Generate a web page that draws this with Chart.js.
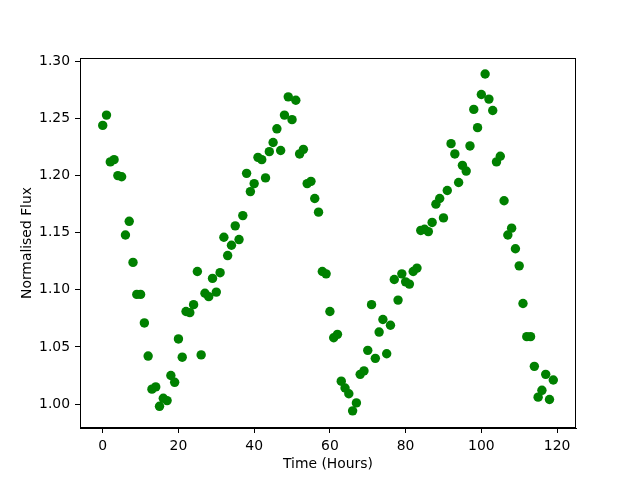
<!DOCTYPE html>
<html>
<head>
<meta charset="utf-8">
<script src="https://cdn.jsdelivr.net/npm/chart.js@4"></script>
<style>
html,body{margin:0;padding:0;background:#fff;}
#c{display:block;}
</style>
</head>
<body>
<canvas id="c" width="640" height="480"></canvas>
<script>
const timeHours = [0,1,2,3,4,5,6,7,8,9,10,11,12,13,14,15,16,17,18,19,20,21,22,23,24,25,26,27,28,29,30,31,32,33,34,35,36,37,38,39,40,41,42,43,44,45,46,47,48,49,50,51,52,53,54,55,56,57,58,59,60,61,62,63,64,65,66,67,68,69,70,71,72,73,74,75,76,77,78,79,80,81,82,83,84,85,86,87,88,89,90,91,92,93,94,95,96,97,98,99,100,101,102,103,104,105,106,107,108,109,110,111,112,113,114,115,116,117,118,119];
const normFlux = [1.244,1.253,1.212,1.214,1.200,1.199,1.148,1.160,1.124,1.096,
1.096,1.071,1.042,1.013,1.015,0.998,1.005,1.003,1.025,1.019,
1.057,1.041,1.081,1.080,1.087,1.116,1.043,1.097,1.094,1.110,
1.098,1.115,1.146,1.130,1.139,1.156,1.144,1.165,1.202,1.186,
1.193,1.216,1.214,1.198,1.221,1.229,1.241,1.222,1.253,1.269,
1.249,1.266,1.219,1.223,1.193,1.195,1.180,1.168,1.116,1.114,
1.081,1.058,1.061,1.020,1.014,1.009,0.994,1.001,1.026,1.029,
1.047,1.087,1.040,1.063,1.074,1.044,1.069,1.109,1.091,1.114,
1.107,1.105,1.116,1.119,1.152,1.153,1.151,1.159,1.175,1.180,
1.163,1.187,1.228,1.219,1.194,1.209,1.204,1.226,1.258,1.242,
1.271,1.289,1.267,1.257,1.212,1.217,1.178,1.148,1.154,1.136,
1.121,1.088,1.059,1.059,1.033,1.006,1.012,1.026,1.004,1.021];
const xTicks = [0,20,40,60,80,100,120];
const yTicks = [1.00,1.05,1.10,1.15,1.20,1.25,1.30];

const points = timeHours.map((t,i)=>({x:t,y:normFlux[i]}));
const FONT = {family:'DejaVu Sans', size:13.9};

const frame = {
  id:'frame',
  afterDraw(chart){
    const a = chart.chartArea, ctx = chart.ctx;
    ctx.save();
    ctx.strokeStyle = '#000';
    ctx.lineWidth = 1;
    ctx.strokeRect(Math.round(a.left)+0.5, Math.round(a.top)+0.5, Math.round(a.right-a.left)-1, Math.round(a.bottom-a.top)-1);
    ctx.restore();
  }
};

new Chart(document.getElementById('c'), {
  type:'scatter',
  data:{datasets:[{data:points, backgroundColor:'#008000', borderColor:'#008000', borderWidth:0, pointRadius:4.7, pointHoverRadius:4.7}]},
  options:{
    responsive:false, animation:false,
    layout:{padding:{left:0,top:58,right:64,bottom:0}},
    plugins:{legend:{display:false}, tooltip:{enabled:false}},
    scales:{
      x:{
        type:'linear', min:-6.0, max:125,
        afterBuildTicks(s){ s.ticks = xTicks.map(v=>({value:v})); },
        afterFit(s){ s.height = 52; },
        grid:{drawOnChartArea:false, color:'#000', tickLength:5, tickWidth:1},
        border:{display:true, color:'#000', width:1},
        ticks:{color:'#000', font:FONT, padding:5, maxRotation:0, callback:v=>String(v)},
        title:{display:true, text:'Time (Hours)', color:'#000', font:FONT, padding:{top:0,bottom:7}}
      },
      y:{
        type:'linear', min:0.979, max:1.303,
        afterBuildTicks(s){ s.ticks = yTicks.map(v=>({value:v})); },
        afterFit(s){ s.width = 80; },
        grid:{drawOnChartArea:false, color:'#000', tickLength:5, tickWidth:1},
        border:{display:true, color:'#000', width:1},
        ticks:{color:'#000', font:FONT, padding:5, callback:v=>Number(v).toFixed(2)},
        title:{display:true, text:'Normalised Flux', color:'#000', font:FONT, padding:{top:19,bottom:0}}
      }
    }
  },
  plugins:[frame]
});
</script>
</body>
</html>
